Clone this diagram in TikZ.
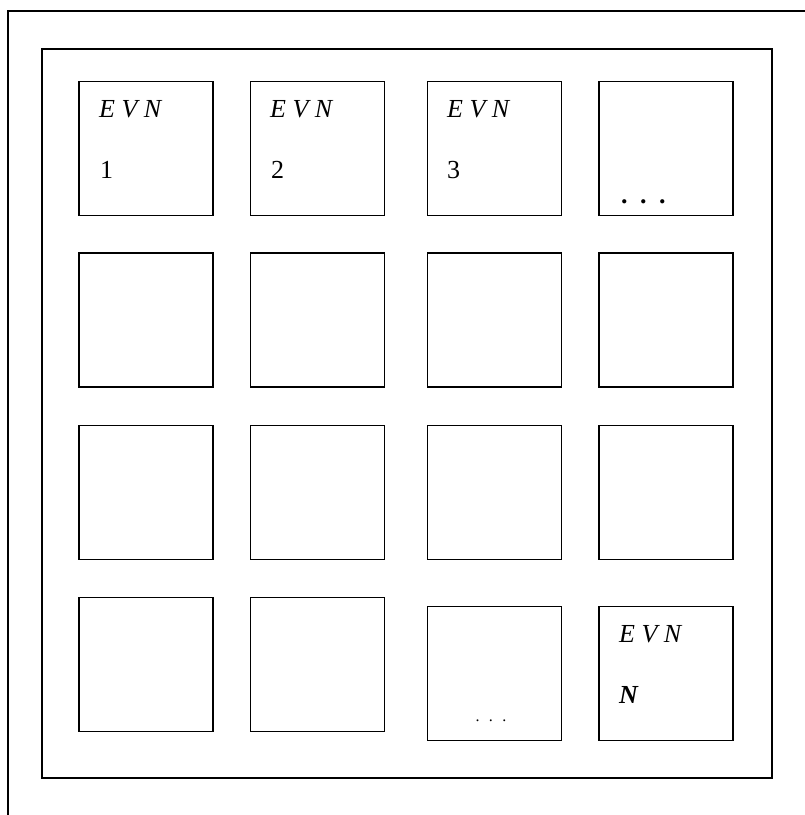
\documentclass[tikz,border=0pt]{standalone}
\usepackage{fontspec}
\setmainfont{Liberation Serif}
\begin{document}
\begin{tikzpicture}[x=1pt,y=-1pt,
  cell/.style={draw,line width=1.8pt,minimum width=134pt,minimum height=134pt,inner sep=0pt},
  frame/.style={draw,line width=1.8pt},
  lbl/.style={anchor=base west,inner sep=0pt,font=\fontsize{26}{30}\selectfont},
  small/.style={anchor=base,inner sep=0pt,font=\fontsize{16}{18}\selectfont}]
\useasboundingbox (0,0) rectangle (805,815);
% outer frame (cut at right and bottom)
\coordinate (o1) at (8,815);
\coordinate (o2) at (8,11);
\coordinate (o3) at (805,11);
\draw[line width=1.8pt] (o1) -- (o2) -- (o3);
% inner frame
\node[frame,minimum width=730pt,minimum height=729pt,inner sep=0pt] (inner) at (407,413.5) {};
% cells
\foreach \c/\x in {1/146,2/317.5,3/494.5,4/666}{
  \foreach \r/\y in {1/148.5,2/320,3/492.5}{
    \node[cell] (c\r\c) at (\x,\y) {};
  }
}
\node[cell] (c41) at (146,664.5) {};
\node[cell] (c42) at (317.5,664.5) {};
\node[cell] (c43) at (494.5,673.5) {};
\node[cell] (c44) at (666,673.5) {};
% labels
\node[lbl] (t1) at (99,117) {\textit{E V N}};
\node[lbl] (n1) at (100,178) {1};
\node[lbl] (t2) at (270,117) {\textit{E V N}};
\node[lbl] (n2) at (271,178) {2};
\node[lbl] (t3) at (447,117) {\textit{E V N}};
\node[lbl] (n3) at (447,178) {3};
\node[lbl] (d4) at (621,203) {\textbf{.\hspace{12.5pt}.\hspace{12.5pt}.}};
\node[small] (d43) at (491,721) {.\hspace{9.5pt}.\hspace{9.5pt}.};
\node[lbl] (tN) at (619,642) {\textit{E V N}};
\node[lbl] (nN) at (619,703) {\textbf{\textit{N}}};
\end{tikzpicture}
\end{document}
